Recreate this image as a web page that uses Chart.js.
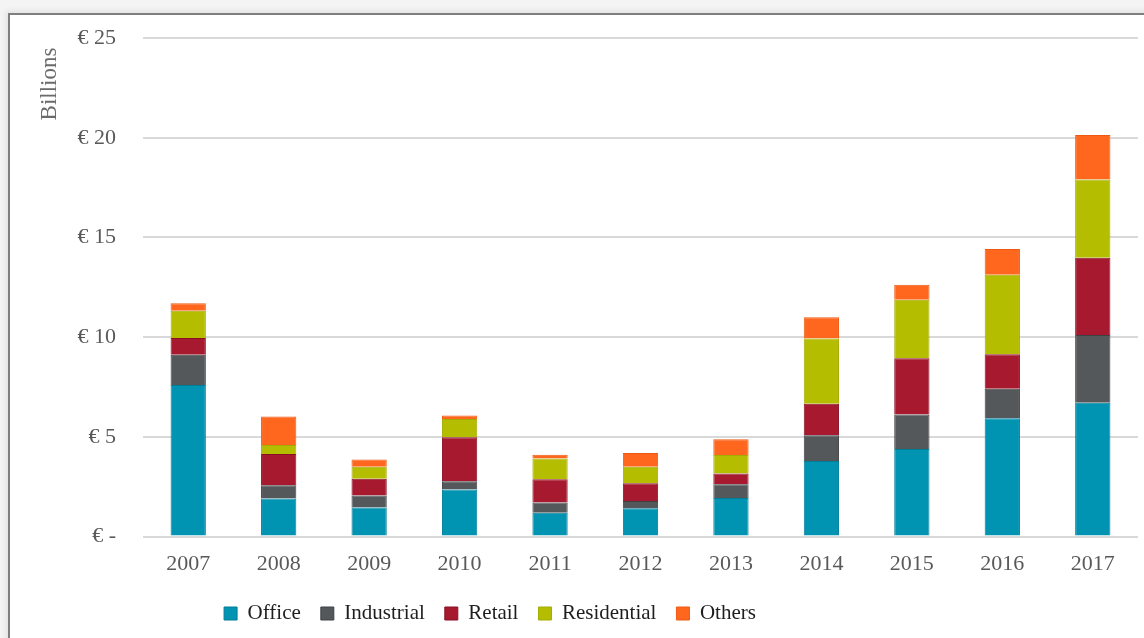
<!DOCTYPE html>
<html>
<head>
<meta charset="utf-8">
<script src="https://cdn.jsdelivr.net/npm/chart.js@4"></script>
<style>
  html, body { margin: 0; padding: 0; background: #f4f4f4; overflow: hidden; }
  #frame {
    position: absolute; left: 8px; top: 13px; width: 1200px; height: 700px;
    background: #fff; border-left: 2px solid #7f7f7f; border-top: 2px solid #7f7f7f;
    box-shadow: -2px -2px 6px rgba(0,0,0,0.08);
  }
  #wrap { position: absolute; left: 0; top: 0; width: 1144px; height: 638px; }
</style>
</head>
<body>
<div id="frame"></div>
<div id="wrap"><canvas id="investChart"></canvas></div>
<script>
// Investment volume by sector, billions of euro
const years = ['2007', '2008', '2009', '2010', '2011', '2012', '2013', '2014', '2015', '2016', '2017'];
const office      = [7.60, 1.91, 1.46, 2.36, 1.19, 1.42, 1.93, 3.79, 4.39, 5.94, 6.71];
const industrial  = [1.52, 0.66, 0.60, 0.41, 0.52, 0.36, 0.69, 1.29, 1.73, 1.47, 3.40];
const retail      = [0.84, 1.57, 0.84, 2.21, 1.16, 0.90, 0.55, 1.58, 2.82, 1.73, 3.87];
const residential = [1.36, 0.45, 0.60, 0.92, 1.04, 0.82, 0.92, 3.27, 2.93, 3.99, 3.93];
const others      = [0.38, 1.43, 0.36, 0.17, 0.20, 0.69, 0.79, 1.07, 0.76, 1.29, 2.23];

const yTicks = [0, 5, 10, 15, 20, 25];

const serif = "'Liberation Serif', 'DejaVu Serif', serif";

// Excel-style display-units label ("Billions") sitting at the top of the axis
const unitsLabel = {
  id: 'unitsLabel',
  afterDraw(chart) {
    const ctx = chart.ctx;
    ctx.save();
    ctx.translate(50, 84);
    ctx.rotate(-Math.PI / 2);
    ctx.font = "23px " + serif;
    ctx.fillStyle = '#6b6b6b';
    ctx.textAlign = 'center';
    ctx.textBaseline = 'middle';
    ctx.fillText('Billions', 0, 0);
    ctx.restore();
  },
};

// the legend in the original sits left of the plot centre; nudge it there
const legendNudge = {
  id: 'legendNudge',
  beforeDraw(chart) {
    const lg = chart.legend;
    if (!lg || lg._nudged) return;
    const dx = 490 - (lg.left + lg.right) / 2;
    const dy = -8;
    lg.left += dx; lg.right += dx;
    lg.top += dy; lg.bottom += dy;
    lg._nudged = true;
  },
};

function series(label, data, color, edge) {
  return {
    label: label,
    data: data,
    backgroundColor: color,
    borderColor: edge,
    borderWidth: 1,
    barPercentage: 0.39,
    categoryPercentage: 1,
  };
}

new Chart(document.getElementById('investChart'), {
  type: 'bar',
  data: {
    labels: years,
    datasets: [
      series('Office', office, '#0093b2', '#007d98'),
      series('Industrial', industrial, '#54585a', '#3f4244'),
      series('Retail', retail, '#a6192e', '#8a1024'),
      series('Residential', residential, '#b5bd00', '#a4ab00'),
      series('Others', others, '#ff671f', '#ee5a12'),
    ],
  },
  options: {
    responsive: true,
    maintainAspectRatio: false,
    animation: false,
    layout: { padding: { left: 0, right: 6, top: 38, bottom: 8 } },
    plugins: {
      legend: {
        position: 'bottom',
        maxHeight: 39,
        labels: {
          font: { family: serif, size: 21 },
          color: '#1e1e1e',
          boxWidth: 13,
          boxHeight: 13,
          padding: 20,
        },
      },
      tooltip: { enabled: false },
    },
    scales: {
      x: {
        stacked: true,
        grid: { display: false, drawTicks: false },
        border: { display: false },
        ticks: {
          font: { family: serif, size: 22 },
          color: '#595959',
          padding: 14,
        },
      },
      y: {
        stacked: true,
        min: 0,
        max: 25,
        afterBuildTicks(scale) {
          scale.ticks = yTicks.map((v) => ({ value: v }));
        },
        afterFit(scale) {
          scale.width = 143;
          scale.paddingTop = 0;
        },
        grid: { color: '#d9d9d9', lineWidth: 2, drawTicks: false },
        border: { display: false },
        ticks: {
          font: { family: serif, size: 22 },
          color: '#595959',
          padding: 27,
          callback: (v) => (v === 0 ? '€ -' : '€ ' + v),
        },
      },
    },
  },
  plugins: [unitsLabel, legendNudge],
});
</script>
</body>
</html>
